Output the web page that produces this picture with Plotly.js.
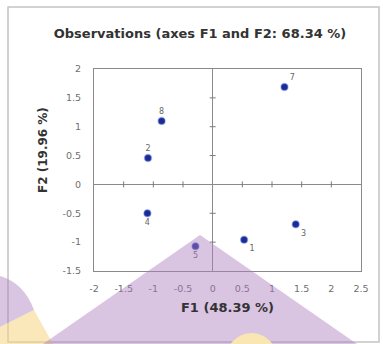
<!DOCTYPE html>
<html>
<head>
<meta charset="utf-8">
<script src="https://cdn.plot.ly/plotly-3.0.1.min.js"></script>
<style>
html,body{margin:0;padding:0;background:#fff;}
#chart{width:383px;height:344px;}
</style>
</head>
<body>
<div id="chart"></div>
<script>
// ---- data ----
const obsLabels = ['1', '2', '3', '4', '5', '7', '8'];
const f1Values = [0.53, -1.09, 1.40, -1.10, -0.29, 1.21, -0.86];
const f2Values = [-0.96, 0.46, -0.69, -0.50, -1.07, 1.69, 1.10];
const labelPositions = ['bottom right', 'top center', 'bottom right', 'bottom center',
                        'bottom center', 'top right', 'top center'];
const xTickVals = [-2, -1.5, -1, -0.5, 0, 0.5, 1, 1.5, 2, 2.5];
const xTickText = ['-2', '-1.5', '-1', '-0.5', '0', '0.5', '1', '1.5', '2', '2.5'];
const yTickVals = [-1.5, -1, -0.5, 0, 0.5, 1, 1.5, 2];
const yTickText = ['-1.5', '-1', '-0.5', '0', '0.5', '1', '1.5', '2'];
const xRange = [-2, 2.5];
const yRange = [-1.5, 2];
const chartTitle = 'Observations (axes F1 and F2: 68.34 %)';
const xTitle = 'F1 (48.39 %)';
const yTitle = 'F2 (19.96 %)';

// ---- layout geometry ----
const W = 383, H = 344;
const M = {l: 94, r: 22, t: 69, b: 73};
const PW = W - M.l - M.r, PH = H - M.t - M.b;
const px = v => (v - M.l) / PW;          // pixel x -> paper x
const py = v => (H - M.b - v) / PH;      // pixel y -> paper y

const axisGrey = '#8a8a8a';
const tickGrey = '#7a7a7a';
const tickFont = {family: 'DejaVu Sans', size: 9.5, color: '#6e6e6e'};
const boldFont = {family: 'DejaVu Sans', size: 13, color: '#333', weight: 'bold'};

const traces = [
  {
    type: 'scatter', mode: 'markers+text',
    x: f1Values, y: f2Values, text: obsLabels,
    textposition: labelPositions,
    textfont: {family: 'DejaVu Sans', size: 8, color: '#666'},
    marker: {size: 7, color: '#1b2a94', line: {width: 1.5, color: 'rgba(110,140,230,0.45)'}},
    cliponaxis: false, showlegend: false, hoverinfo: 'skip'
  }
];

// cross ticks on the zero lines (positions from the tick arrays, via axis scales)
const zeroTicks = [];
xTickVals.filter(v => v !== 0 && v !== xRange[0] && v !== xRange[1]).forEach(v => zeroTicks.push({
  type: 'line', xref: 'x', yref: 'y', ysizemode: 'pixel', yanchor: 0,
  x0: v, x1: v, y0: -3, y1: 3, line: {color: tickGrey, width: 1}, layer: 'above'
}));
yTickVals.filter(v => v !== 0 && v !== yRange[0] && v !== yRange[1]).forEach(v => zeroTicks.push({
  type: 'line', xref: 'x', yref: 'y', xsizemode: 'pixel', xanchor: 0,
  x0: -3, x1: 3, y0: v, y1: v, line: {color: tickGrey, width: 1}, layer: 'above'
}));

const layout = {
  width: W, height: H,
  margin: M,
  paper_bgcolor: '#fff', plot_bgcolor: '#fff',
  showlegend: false,
  title: {
    text: chartTitle, font: boldFont,
    x: 200 / W, xanchor: 'center', xref: 'container',
    y: 1 - 33 / H, yanchor: 'middle', yref: 'container'
  },
  xaxis: {
    range: xRange, tickmode: 'array', tickvals: xTickVals, ticktext: xTickText,
    showline: true, mirror: true, linecolor: axisGrey, linewidth: 1,
    ticks: 'outside', ticklen: 9, tickcolor: 'rgba(0,0,0,0)',
    showgrid: false, zeroline: true, zerolinecolor: axisGrey, zerolinewidth: 1,
    tickfont: tickFont, fixedrange: true,
    title: {text: xTitle, font: boldFont, standoff: 9}
  },
  yaxis: {
    range: yRange, tickmode: 'array', tickvals: yTickVals, ticktext: yTickText,
    showline: true, mirror: true, linecolor: axisGrey, linewidth: 1,
    ticks: 'outside', ticklen: 10, tickcolor: 'rgba(0,0,0,0)',
    showgrid: false, zeroline: true, zerolinecolor: axisGrey, zerolinewidth: 1,
    tickfont: tickFont, fixedrange: true
  },
  annotations: [
    {text: yTitle, textangle: -90, xref: 'paper', yref: 'paper',
     x: px(43), y: py(150), xanchor: 'center', yanchor: 'middle',
     showarrow: false, font: {family: 'DejaVu Sans', size: 12, color: '#333', weight: 'bold'}}
  ],
  shapes: zeroTicks.concat([
    // outer chart frame
    {type: 'rect', xref: 'paper', yref: 'paper', x0: px(8), x1: px(379), y0: py(342), y1: py(7),
     line: {color: '#c4c4c4', width: 1.5}, fillcolor: 'rgba(0,0,0,0)', layer: 'below'},
    // decorative overlay shapes
    {type: 'path', xref: 'paper', yref: 'paper', layer: 'above',
     path: `M ${px(0)},${py(276)} Q ${px(24)},${py(283)} ${px(34)},${py(310)} L ${px(0)},${py(327)} Z`,
     fillcolor: 'rgba(170,125,190,0.45)', line: {width: 0}},
    {type: 'path', xref: 'paper', yref: 'paper', layer: 'above',
     path: `M ${px(0)},${py(327)} L ${px(34)},${py(310)} L ${px(53)},${py(344)} L ${px(0)},${py(344)} Z`,
     fillcolor: 'rgba(248,214,130,0.55)', line: {width: 0}},
    {type: 'path', xref: 'paper', yref: 'paper', layer: 'above',
     path: `M ${px(200)},${py(235)} L ${px(357)},${py(344)} L ${px(43)},${py(344)} Z`,
     fillcolor: 'rgba(170,125,190,0.45)', line: {width: 0}},
    {type: 'circle', xref: 'paper', yref: 'paper', layer: 'above',
     x0: px(226), x1: px(277), y0: py(384), y1: py(333),
     fillcolor: 'rgb(250,230,178)', line: {width: 0}}
  ])
};

Plotly.newPlot('chart', traces, layout, {displayModeBar: false, staticPlot: true});
</script>
</body>
</html>
